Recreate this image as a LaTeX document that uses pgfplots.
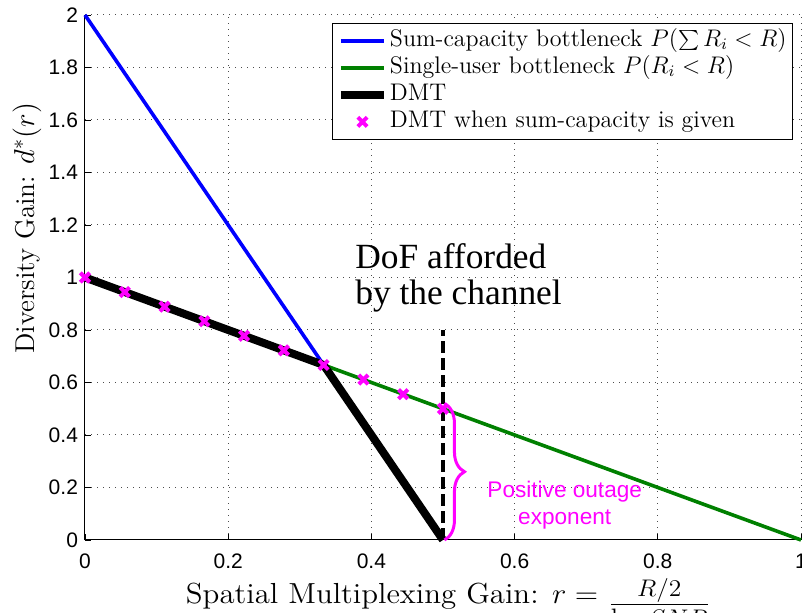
\documentclass[border=0pt]{standalone}
\usepackage{fontspec}
\usepackage{pgfplots}
\pgfplotsset{compat=1.18}
\usetikzlibrary{decorations.pathreplacing}
\newfontfamily\arial{Liberation Sans}
\newfontfamily\timesfont{Liberation Serif}
\definecolor{mgreen}{rgb}{0,0.5,0}
\definecolor{mmag}{rgb}{1,0,1}
\newcommand{\fracfont}{\fontsize{12.6}{14}\selectfont}

\begin{document}
\begin{tikzpicture}
\begin{axis}[
    scale only axis,
    width=358pt, height=262.5pt,
    xmin=0, xmax=1, ymin=0, ymax=2,
    xtick={0,0.2,0.4,0.6,0.8,1},
    ytick={0,0.2,0.4,0.6,0.8,1,1.2,1.4,1.6,1.8,2},
    axis lines=left,
    axis line style={-, line width=0.5pt},
    tick align=inside,
    major tick length=3pt,
    tick style={black, line width=0.4pt},
    grid=major,
    grid style={black!70, line width=0.5pt, dash pattern=on 0.5pt off 2.5pt},
    tick label style={font=\arial\fontsize{10.5}{12}\selectfont},
    xticklabel style={yshift=-3.5pt},
    /pgf/number format/assume math mode=true,
    xlabel={Spatial Multiplexing Gain: $r=$ \raisebox{-3.6pt}{$\frac{\hbox{\fracfont$R/2$}}{\hbox{\fracfont\rule{0pt}{10.6pt}$\log SNR$}}$}},
    xlabel style={font=\fontsize{14.5}{17}\selectfont, xscale=1.064,
        at={(axis description cs:0.507,0)}, anchor=base, yshift=-32pt},
    ylabel={Diversity Gain: $d^*(r)$},
    ylabel style={font=\fontsize{13.6}{16}\selectfont,
        at={(axis description cs:-0.081,0.594)}, anchor=center},
    clip=false,
    legend style={at={(axis description cs:0.989,0.985)}, anchor=north east,
        draw=black, line width=0.5pt, fill=white, inner sep=2pt,
        font=\fontsize{12}{13}\selectfont, row sep=0pt,
        nodes={text height=8.5pt, text depth=3pt, inner sep=1pt},
        cells={anchor=west}},
    legend image code/.code={%
        \draw[mark repeat=2,mark phase=2,#1] plot coordinates {(0pt,0pt) (10.75pt,0pt) (21.5pt,0pt)};},
]
\addplot[blue, line width=1.8pt] coordinates {(0,2) (0.3333,0.6667)};
\addplot[mgreen, line width=1.8pt] coordinates {(0,1) (1,0)};
\addplot[black, line width=4pt] coordinates {(0,1) (0.3333,0.6667) (0.5,0)};
\addplot[black, line width=2pt, dash pattern=on 6pt off 2.5pt, forget plot] coordinates {(0.5,0) (0.5,0.8)};
\addplot[only marks, mark=x, mark size=3.3pt, mmag, line width=2pt] coordinates {
    (0,1) (0.0556,0.9444) (0.1111,0.8889) (0.1667,0.8333) (0.2222,0.7778)
    (0.2778,0.7222) (0.3333,0.6667) (0.3889,0.6111) (0.4444,0.5556) (0.5,0.5)};
\legend{Sum-capacity bottleneck $P(\sum R_i<R)$,
        Single-user bottleneck $P(R_i<R)$,
        DMT,
        DMT when sum-capacity is given}

\draw[mmag, line width=1.5pt, decorate, decoration={brace, amplitude=10pt}]
    (axis cs:0.502,0.52) -- (axis cs:0.502,0);
\node[mmag, font=\arial\fontsize{11.3}{13.5}\selectfont, align=center]
    at (axis cs:0.670,0.133) {Positive outage\\exponent};
\node[anchor=north west, inner sep=0pt, align=left,
    font=\timesfont\fontsize{17.7}{18}\selectfont]
    at (axis cs:0.377,1.131) {DoF afforded\\by the channel};
\end{axis}
\pgfresetboundingbox
\path[use as bounding box] ([shift={(-42.5pt,-36.5pt)}]current axis.south west) rectangle ++(401pt,306.5pt);
\end{tikzpicture}
\end{document}
